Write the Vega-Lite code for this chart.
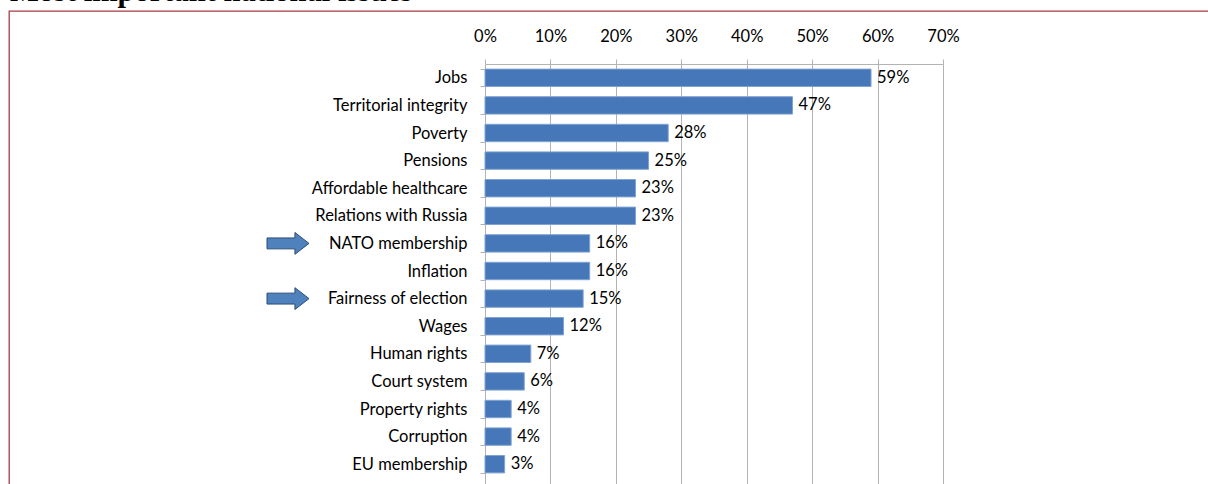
{
  "$schema": "https://vega.github.io/schema/vega-lite/v6.json",
  "autosize": {"type": "none"},
  "padding": {"left": 9, "top": 11, "right": 0, "bottom": 0},
  "width": 1220,
  "height": 490,
  "background": "white",
  "title": {
    "text": "Most important national issues",
    "anchor": "start",
    "frame": "group",
    "orient": "top",
    "offset": -28,
    "baseline": "alphabetic",
    "font": "Liberation Serif",
    "fontSize": 30.5,
    "fontWeight": "bold",
    "color": "black",
    "dx": 1
  },
  "config": {
    "view": {"stroke": "#a93a43", "strokeWidth": 1.3},
    "axis": {
      "labelFont": "Lato",
      "labelFontSize": 16.5,
      "labelFontWeight": 400,
      "labelColor": "black",
      "domainColor": "#b3b3b3",
      "tickColor": "#b3b3b3",
      "domainWidth": 1,
      "tickWidth": 1
    }
  },
  "data": {
    "values": [
      {"issue": "Jobs", "share": 0.59, "highlight": false},
      {"issue": "Territorial integrity", "share": 0.47, "highlight": false},
      {"issue": "Poverty", "share": 0.28, "highlight": false},
      {"issue": "Pensions", "share": 0.25, "highlight": false},
      {"issue": "Affordable healthcare", "share": 0.23, "highlight": false},
      {"issue": "Relations with Russia", "share": 0.23, "highlight": false},
      {"issue": "NATO membership", "share": 0.16, "highlight": true},
      {"issue": "Inflation", "share": 0.16, "highlight": false},
      {"issue": "Fairness of election", "share": 0.15, "highlight": true},
      {"issue": "Wages", "share": 0.12, "highlight": false},
      {"issue": "Human rights", "share": 0.07, "highlight": false},
      {"issue": "Court system", "share": 0.06, "highlight": false},
      {"issue": "Property rights", "share": 0.04, "highlight": false},
      {"issue": "Corruption", "share": 0.04, "highlight": false},
      {"issue": "EU membership", "share": 0.03, "highlight": false}
    ]
  },
  "encoding": {
    "y": {
      "field": "issue",
      "type": "nominal",
      "sort": null,
      "scale": {"range": [53, 467], "paddingInner": 0.37, "paddingOuter": 0.185},
      "axis": {
        "orient": "left",
        "offset": -476,
        "title": null,
        "tickBand": "extent",
        "tickSize": 5,
        "labelPadding": 13,
        "labelBaseline": "middle",
        "labelLimit": 300
      }
    }
  },
  "layer": [
    {
      "mark": {"type": "bar", "color": "#4677b8", "stroke": "#7fa3d2", "strokeWidth": 1},
      "encoding": {
        "x": {
          "field": "share",
          "type": "quantitative",
          "scale": {"domain": [0, 0.7], "range": [476, 934], "nice": false},
          "axis": {
            "orient": "top",
            "offset": -53,
            "values": [0, 0.1, 0.2, 0.3, 0.4, 0.5, 0.6, 0.7],
            "format": ".0%",
            "labelFlush": false,
            "grid": false,
            "tickSize": 5,
            "labelPadding": 18,
            "labelBaseline": "alphabetic",
            "title": null
          }
        }
      }
    },
    {
      "mark": {"type": "text", "align": "left", "baseline": "middle", "dx": 6, "font": "Lato", "fontSize": 16.5, "fontWeight": 400, "color": "black"},
      "encoding": {
        "x": {
          "field": "share",
          "type": "quantitative",
          "scale": {"domain": [0, 0.7], "range": [476, 934], "nice": false},
          "axis": {
            "orient": "top",
            "offset": -53,
            "values": [0, 0.1, 0.2, 0.3, 0.4, 0.5, 0.6, 0.7],
            "labels": false,
            "domain": false,
            "grid": false,
            "tickSize": -425,
            "title": null
          }
        },
        "text": {"field": "share", "type": "quantitative", "format": ".0%"}
      }
    },
    {
      "transform": [{"filter": "datum.highlight"}],
      "mark": {
        "type": "point",
        "shape": "M-1,-0.26 L0.33,-0.26 L0.33,-0.52 L1,0 L0.33,0.52 L0.33,0.26 L-1,0.26 Z",
        "size": 1764,
        "filled": true,
        "fill": "#4f81bd",
        "stroke": "#2c4d75",
        "strokeWidth": 1,
        "opacity": 1,
        "xOffset": -197
      },
      "encoding": {
        "x": {"datum": 0, "type": "quantitative", "axis": null}
      }
    }
  ],
  "resolve": {"axis": {"x": "independent"}}
}
